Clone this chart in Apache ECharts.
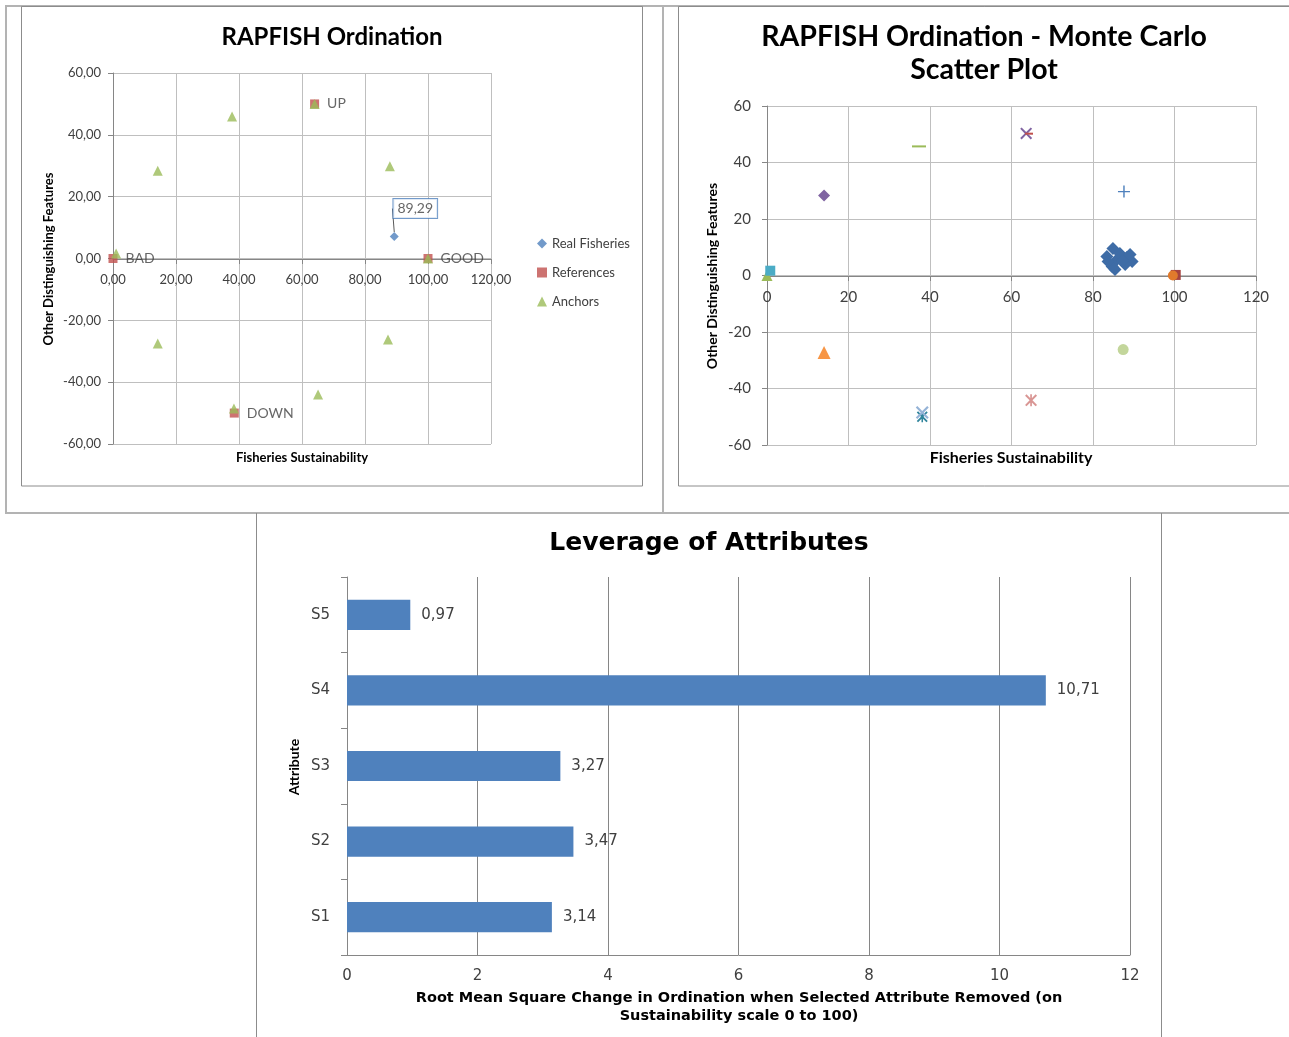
<!DOCTYPE html>
<html>
<head>
<meta charset="utf-8">
<title>RAPFISH Ordination</title>
<script src="https://cdn.jsdelivr.net/npm/echarts@6/dist/echarts.min.js"></script>
<style>
  html, body { margin: 0; padding: 0; background: #ffffff; }
  #main { width: 1289px; height: 1037px; }
</style>
</head>
<body>
<div id="main"></div>
<script>
// ---- Ordination (sustainability score vs. other distinguishing features) ----
const realFisheries = [[89.29, 7.1]];
const referencePoints = [[0, 0], [100, 0], [64, 50], [38.5, -50]];
const referenceNames = ['BAD', 'GOOD', 'UP', 'DOWN'];
const anchorPoints = [
  [1, 1.6], [14.2, 28.4], [37.8, 45.9], [64, 50], [87.9, 29.8],
  [100, 0], [87.3, -26.2], [65.1, -44], [38.4, -48.5], [14.2, -27.5]
];
const legendNames = ['Real Fisheries', 'References', 'Anchors'];

// ---- Monte Carlo scatter ----
const mcFisheries = [
  [84.9, 9.6], [83.4, 6.7], [84.7, 3.2], [88.3, 6.4], [89.6, 5.0], [85.9, 5.7],
  [86.6, 7.8], [87.9, 3.9], [83.7, 5.0], [89.1, 7.4], [85.4, 2.1], [87.2, 5.2]
];
const mcBad = [[0, 0]];
const mcBadAnchor = [[0.8, 1.7]];
const mcAnchorA = [[14, 28.3]];
const mcAnchorB = [[37.3, 45.7]];
const mcUp = [[63.6, 50.3]];
const mcUpAnchor = [[64.3, 50.2]];
const mcAnchorC = [[87.6, 29.7]];
const mcGood = [[100.3, 0.2]];
const mcGoodAnchor = [[99.6, 0]];
const mcAnchorD = [[87.4, -26.2]];
const mcAnchorE = [[64.8, -44.2]];
const mcDownAnchor = [[38.1, -48.5]];
const mcDown = [[38.1, -50]];
const mcAnchorF = [[14, -27.3]];

// ---- Leverage of attributes ----
const attributes = ['S1', 'S2', 'S3', 'S4', 'S5'];
const leverage = [3.14, 3.47, 3.27, 10.71, 0.97];

// axis ranges: [min, max, interval]
const sustainRange = [0, 120, 20];
const featureRange = [-60, 60, 20];
const rmsRange = [0, 12, 2];

const TXT = '#404040';
const AXIS = '#868686';
const GRID = '#bfbfbf';
const LATO = 'Lato';
const DEJAVU = 'DejaVu Sans';
const comma2 = v => Number(v).toFixed(2).replace('.', ',');

// symbol outlines for the Monte Carlo markers
const SYM_X = 'path://M0,1.2 L1.2,0 L5,3.8 L8.8,0 L10,1.2 L6.2,5 L10,8.8 L8.8,10 L5,6.2 L1.2,10 L0,8.8 L3.8,5 Z';
const SYM_PLUS = 'path://M4.4,0 H5.6 V4.4 H10 V5.6 H5.6 V10 H4.4 V5.6 H0 V4.4 H4.4 Z';
const SYM_DASH = 'path://M0,0 H10 V1 H0 Z';
const SYM_STAR = 'path://M0,1.2 L1.2,0 L5,3.8 L8.8,0 L10,1.2 L6.2,5 L10,8.8 L8.8,10 L5,6.2 L1.2,10 L0,8.8 L3.8,5 Z M4.3,0 H5.7 V10 H4.3 Z';

function valueAxis(grid, range, fmt, fontSize, margin, fontFamily) {
  return {
    gridIndex: grid, type: 'value',
    min: range[0], max: range[1], interval: range[2],
    axisLine: { show: true, onZero: false, lineStyle: { color: AXIS, width: 1 } },
    axisTick: { show: true, length: 5, lineStyle: { color: AXIS } },
    axisLabel: { formatter: fmt, color: TXT, fontSize: fontSize, fontFamily: fontFamily, margin: margin },
    splitLine: { show: true, lineStyle: { color: GRID, width: 1 } }
  };
}

function mcSeries(name, data, symbol, size, color, z) {
  return {
    name: name, type: 'scatter', xAxisIndex: 1, yAxisIndex: 1,
    data: data, symbol: symbol, symbolSize: size,
    itemStyle: { color: color, opacity: 1 }, z: z || 2,
    emphasis: { disabled: true }
  };
}

const chart = echarts.init(document.getElementById('main'));

// the horizontal axes sit on the zero line of the vertical axis
const ordXAxis = valueAxis(0, sustainRange, comma2, 13, 14, LATO);
ordXAxis.position = 'bottom';
ordXAxis.offset = -185;
const mcXAxis = valueAxis(1, sustainRange, v => String(v), 15, 14, LATO);
mcXAxis.position = 'bottom';
mcXAxis.offset = -169;
const rmsXAxis = valueAxis(2, rmsRange, v => String(v), 15, 14, DEJAVU);
rmsXAxis.splitLine = { show: true, lineStyle: { color: AXIS, width: 1 } };
rmsXAxis.axisTick = { show: false };

const option = {
  animation: false,
  textStyle: { fontFamily: LATO },
  grid: [
    { left: 113, top: 73, width: 378, height: 371 },
    { left: 767, top: 106, width: 489, height: 339 },
    { left: 347, top: 577, width: 783, height: 378 }
  ],
  legend: {
    data: legendNames,
    orient: 'vertical', left: 532, top: 232,
    itemWidth: 10, itemHeight: 10, itemGap: 16,
    textStyle: { color: TXT, fontSize: 13, fontFamily: LATO },
    selectedMode: false
  },
  xAxis: [ordXAxis, mcXAxis, rmsXAxis],
  yAxis: [
    valueAxis(0, featureRange, comma2, 13, 12, LATO),
    valueAxis(1, featureRange, v => String(v), 15, 16, LATO),
    {
      gridIndex: 2, type: 'category', data: attributes,
      axisLine: { show: true, lineStyle: { color: AXIS } },
      axisTick: { show: true, length: 6, interval: 0, lineStyle: { color: AXIS } },
      axisLabel: { color: TXT, fontSize: 15, fontFamily: DEJAVU, margin: 17 },
      splitLine: { show: false }
    }
  ],
  series: [
    // ordination
    {
      name: 'Real Fisheries', type: 'scatter', xAxisIndex: 0, yAxisIndex: 0,
      data: realFisheries, symbol: 'diamond', symbolSize: 9,
      itemStyle: { color: '#4F81BD' }, z: 4,
      label: {
        show: true, position: 'inside',
        formatter: p => comma2(p.value[0]),
        color: TXT, fontSize: 14, fontFamily: LATO,
        backgroundColor: '#ffffff', borderColor: '#4F81BD', borderWidth: 1,
        padding: [3, 4, 2, 4]
      },
      labelLayout: { dx: 21, dy: -28 },
      labelLine: { show: true, lineStyle: { color: '#595959', width: 1 } }
    },
    {
      name: 'References', type: 'scatter', xAxisIndex: 0, yAxisIndex: 0,
      data: referencePoints.map((p, i) => ({ value: p, name: referenceNames[i] })),
      symbol: 'rect', symbolSize: 9, itemStyle: { color: '#C0504D' }, z: 2,
      label: {
        show: true, position: 'right', distance: 8, formatter: '{b}',
        color: TXT, fontSize: 14, fontFamily: LATO
      }
    },
    {
      name: 'Anchors', type: 'scatter', xAxisIndex: 0, yAxisIndex: 0,
      data: anchorPoints, symbol: 'triangle', symbolSize: 10,
      itemStyle: { color: '#9BBB59' }, z: 3
    },
    // monte carlo
    mcSeries('mc-bad', mcBad, 'triangle', 11, '#9BBB59', 2),
    mcSeries('mc-bad-anchor', mcBadAnchor, 'rect', 10, '#4BACC6', 3),
    mcSeries('mc-anchor-a', mcAnchorA, 'diamond', 12, '#8064A2'),
    mcSeries('mc-anchor-b', mcAnchorB, SYM_DASH, [14, 2], '#9BBB59'),
    mcSeries('mc-up', mcUp, SYM_X, 12, '#8064A2', 2),
    mcSeries('mc-up-anchor', mcUpAnchor, SYM_DASH, [8, 2], '#C0504D', 3),
    mcSeries('mc-anchor-c', mcAnchorC, SYM_PLUS, 12, '#4F81BD'),
    mcSeries('mc-fisheries', mcFisheries, 'diamond', 13, '#3E6CA6', 4),
    mcSeries('mc-good', mcGood, 'rect', 10, '#A5433F', 2),
    mcSeries('mc-good-anchor', mcGoodAnchor, 'circle', 10, '#E07A2C', 3),
    mcSeries('mc-anchor-d', mcAnchorD, 'circle', 11, '#C3D69B'),
    mcSeries('mc-anchor-e', mcAnchorE, SYM_STAR, 12, '#D99694'),
    mcSeries('mc-down-anchor', mcDownAnchor, SYM_X, 13, '#95B3D7', 3),
    mcSeries('mc-down', mcDown, SYM_STAR, 11, '#31859C', 2),
    mcSeries('mc-anchor-f', mcAnchorF, 'triangle', 13, '#F79646'),
    // leverage
    {
      name: 'Leverage', type: 'bar', xAxisIndex: 2, yAxisIndex: 2,
      data: leverage, barWidth: '40%',
      itemStyle: { color: '#4F81BD' },
      label: {
        show: true, position: 'right', distance: 11,
        formatter: p => comma2(p.value),
        color: TXT, fontSize: 15, fontFamily: DEJAVU
      }
    }
  ],
  graphic: [
    // panel frames
    { type: 'rect', shape: { x: 6, y: 6, width: 1300, height: 507 }, style: { fill: 'none', stroke: '#b3b3b3', lineWidth: 2 }, silent: true },
    { type: 'line', shape: { x1: 663, y1: 6, x2: 663, y2: 513 }, style: { stroke: '#b3b3b3', lineWidth: 2 }, silent: true },
    { type: 'rect', shape: { x: 21.5, y: 6.5, width: 621, height: 479.5 }, style: { fill: 'none', stroke: '#8c8c8c', lineWidth: 1 }, silent: true },
    { type: 'rect', shape: { x: 678.5, y: 6.5, width: 640, height: 479.5 }, style: { fill: 'none', stroke: '#8c8c8c', lineWidth: 1 }, silent: true },
    { type: 'line', shape: { x1: 256.5, y1: 513, x2: 256.5, y2: 1037 }, style: { stroke: '#8c8c8c', lineWidth: 1 }, silent: true },
    { type: 'line', shape: { x1: 1161.5, y1: 513, x2: 1161.5, y2: 1037 }, style: { stroke: '#8c8c8c', lineWidth: 1 }, silent: true },
    // titles
    { type: 'text', x: 332, y: 37, style: { text: 'RAPFISH Ordination', fill: '#000', font: 'bold 24px Lato', textAlign: 'center', textVerticalAlign: 'middle' } },
    { type: 'text', x: 984, y: 37, style: { text: 'RAPFISH Ordination - Monte Carlo', fill: '#000', font: 'bold 28.5px Lato', textAlign: 'center', textVerticalAlign: 'middle' } },
    { type: 'text', x: 984, y: 70, style: { text: 'Scatter Plot', fill: '#000', font: 'bold 28.5px Lato', textAlign: 'center', textVerticalAlign: 'middle' } },
    { type: 'text', x: 709, y: 543, style: { text: 'Leverage of Attributes', fill: '#000', font: 'bold 25px "DejaVu Sans"', textAlign: 'center', textVerticalAlign: 'middle' } },
    // axis titles
    { type: 'text', x: 302, y: 458, style: { text: 'Fisheries Sustainability', fill: '#000', font: 'bold 13px Lato', textAlign: 'center', textVerticalAlign: 'middle' } },
    { type: 'text', x: 49, y: 259, rotation: Math.PI / 2, style: { text: 'Other Distinguishing Features', fill: '#000', font: 'bold 13px Lato', textAlign: 'center', textVerticalAlign: 'middle' } },
    { type: 'text', x: 1011, y: 458, style: { text: 'Fisheries Sustainability', fill: '#000', font: 'bold 16px Lato', textAlign: 'center', textVerticalAlign: 'middle' } },
    { type: 'text', x: 712, y: 276, rotation: Math.PI / 2, style: { text: 'Other Distinguishing Features', fill: '#000', font: 'bold 14px Lato', textAlign: 'center', textVerticalAlign: 'middle' } },
    { type: 'text', x: 739, y: 998, style: { text: 'Root Mean Square Change in Ordination when Selected Attribute Removed (on', fill: '#000', font: 'bold 14.5px "DejaVu Sans"', textAlign: 'center', textVerticalAlign: 'middle' } },
    { type: 'text', x: 739, y: 1016, style: { text: 'Sustainability scale 0 to 100)', fill: '#000', font: 'bold 14.5px "DejaVu Sans"', textAlign: 'center', textVerticalAlign: 'middle' } },
    { type: 'text', x: 294, y: 767, rotation: Math.PI / 2, style: { text: 'Attribute', fill: '#000', font: 'bold 14px Lato', textAlign: 'center', textVerticalAlign: 'middle' } }
  ]
};

chart.setOption(option);
</script>
</body>
</html>
